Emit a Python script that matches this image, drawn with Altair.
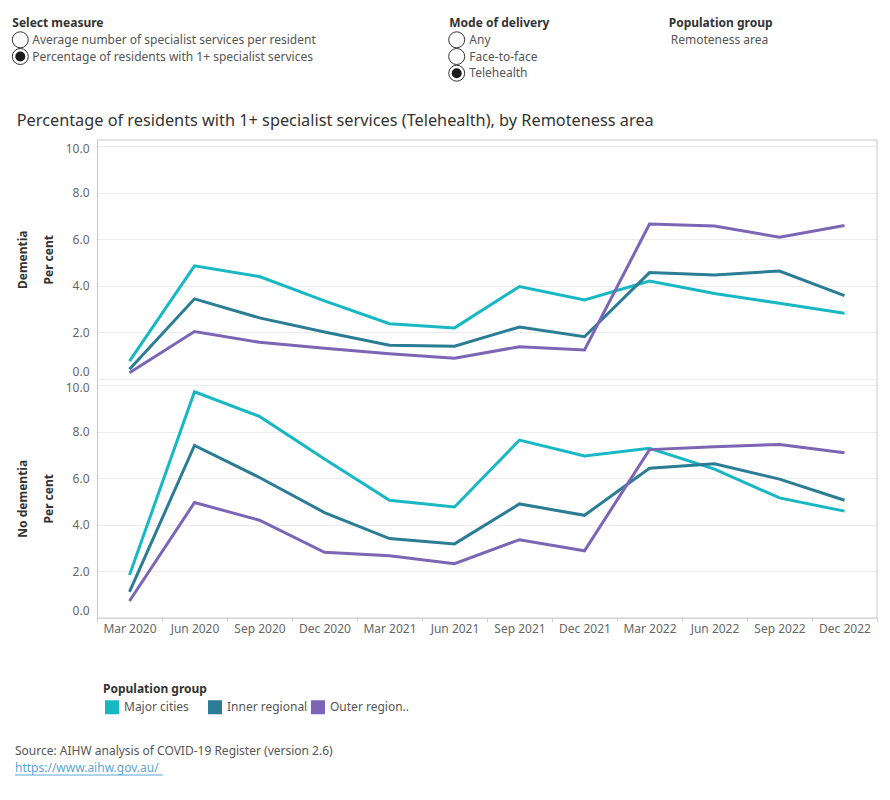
import altair as alt
import pandas as pd

FONT = "Noto Sans"

quarters = ["Mar 2020", "Jun 2020", "Sep 2020", "Dec 2020", "Mar 2021", "Jun 2021",
            "Sep 2021", "Dec 2021", "Mar 2022", "Jun 2022", "Sep 2022", "Dec 2022"]
groups = ["Major cities", "Inner regional", "Outer regional and remote"]
colors = ["#17b8c4", "#2b7c95", "#7d65b5"]

# Per cent of residents with at least one telehealth specialist service
dementia_major = [0.75, 4.85, 4.39, 3.34, 2.36, 2.18, 3.96, 3.38, 4.20, 3.66, 3.24, 2.81]
dementia_inner = [0.40, 3.43, 2.61, 2.00, 1.43, 1.39, 2.22, 1.80, 4.56, 4.46, 4.63, 3.57]
dementia_outer = [0.25, 2.02, 1.56, 1.30, 1.07, 0.87, 1.37, 1.23, 6.65, 6.57, 6.08, 6.59]
no_dementia_major = [1.83, 9.72, 8.66, 6.82, 5.05, 4.76, 7.64, 6.96, 7.29, 6.39, 5.15, 4.58]
no_dementia_inner = [1.10, 7.41, 6.03, 4.52, 3.40, 3.17, 4.89, 4.40, 6.43, 6.62, 5.96, 5.05]
no_dementia_outer = [0.71, 4.95, 4.19, 2.81, 2.66, 2.32, 3.35, 2.87, 7.23, 7.35, 7.45, 7.09]

series = {
    "Dementia": [dementia_major, dementia_inner, dementia_outer],
    "No dementia": [no_dementia_major, no_dementia_inner, no_dementia_outer],
}
rows = []
for panel_name, lists in series.items():
    for grp, vals in zip(groups, lists):
        for q, v in zip(quarters, vals):
            rows.append({"panel": panel_name, "group": grp, "quarter": q, "value": v})
df = pd.DataFrame(rows)

W, H = 780, 238.5
GRID = "#ebebeb"
BORDER = "#c8c8c8"


def one():
    return alt.Data(values=[{}])


def text(txt, x, y, size=12, color="#555555", weight="normal"):
    return alt.Chart(one()).mark_text(
        text=txt, align="left", baseline="middle", font=FONT,
        fontSize=size, color=color, fontWeight=weight,
    ).encode(x=alt.value(x), y=alt.value(y))


def radio(x, y, selected=False):
    ring = alt.Chart(one()).mark_point(
        shape="circle", size=256, filled=False, color="#333333",
        strokeWidth=1, opacity=1,
    ).encode(x=alt.value(x), y=alt.value(y))
    if not selected:
        return [ring]
    dot = alt.Chart(one()).mark_point(
        shape="circle", size=100, filled=True, color="#1a1a1a", opacity=1,
    ).encode(x=alt.value(x), y=alt.value(y))
    return [ring, dot]


def hrule(x1, x2, y, color=BORDER):
    return alt.Chart(one()).mark_rule(color=color, strokeWidth=1).encode(
        x=alt.value(x1), x2=alt.value(x2), y=alt.value(y))


def vrule(x, y1, y2, color=BORDER):
    return alt.Chart(one()).mark_rule(color=color, strokeWidth=1).encode(
        x=alt.value(x), y=alt.value(y1), y2=alt.value(y2))


def panel(name, show_x, legend, extras):
    x_axis = alt.Axis(
        title=None, labelAngle=0, tickBand="extent", labelFont=FONT,
        labelFontSize=12, labelColor="#666666", labelPadding=2,
        tickColor="#d0d0d0", tickSize=4, domainColor=BORDER, grid=False,
    ) if show_x else None
    y_axis = alt.Axis(
        values=[0, 2, 4, 6, 8, 10], format=".1f", title=[name, "Per cent"],
        titleFont=FONT, titleFontSize=12, titleFontWeight="bold",
        titleColor="#333333", titleLineHeight=26, titlePadding=10,
        labelFont=FONT, labelFontSize=12, labelColor="#666666",
        labelPadding=8, ticks=False, labelFlush=True,
        labelOffset={"condition": {"test": "datum.value == 10", "value": 2.5}, "value": 0},
        domainColor=BORDER, gridColor=GRID,
    )
    lines = alt.Chart(df[df.panel == name]).mark_line(strokeWidth=3).encode(
        x=alt.X("quarter:N", sort=quarters, bandPosition=0.5,
                scale=alt.Scale(type="band", paddingInner=0, paddingOuter=0),
                axis=x_axis),
        y=alt.Y("value:Q", scale=alt.Scale(domain=[0, 10.27], nice=False),
                axis=y_axis),
        color=alt.Color("group:N", sort=groups,
                        scale=alt.Scale(domain=groups, range=colors),
                        legend=legend),
    )
    return alt.layer(lines, *extras).properties(width=W, height=H)


header = [
    text("Select measure", -84.7, -117.2, color="#333333", weight="bold"),
    *radio(-76.7, -100.2),
    text("Average number of specialist services per resident", -64.7, -100.2),
    *radio(-76.7, -83.5, selected=True),
    text("Percentage of residents with 1+ specialist services", -64.7, -83.5),
    text("Mode of delivery", 352.3, -117.2, color="#333333", weight="bold"),
    *radio(359.7, -100.2),
    text("Any", 372.3, -100.2),
    *radio(359.7, -83.5),
    text("Face-to-face", 372.3, -83.5),
    *radio(359.7, -66.8, selected=True),
    text("Telehealth", 372.3, -66.8),
    text("Population group", 571.7, -117.2, color="#333333", weight="bold"),
    text("Remoteness area", 573.7, -100.2),
    text("Percentage of residents with 1+ specialist services (Telehealth), by Remoteness area",
         -80.3, -19.5, size=16.3, color="#333333"),
    hrule(0, W, 0),
    vrule(W, 0, H),
]

footer = [
    vrule(W, 0, H),
    text("Source: AIHW analysis of COVID-19 Register (version 2.6)", -82, 372),
    text("https://www.aihw.gov.au/", -82, 388.7, color="#5aa6d6"),
    hrule(-82, 66, 396, color="#5aa6d6"),
]

legend = alt.Legend(
    title="Population group", orient="none", legendX=6, legendY=305,
    direction="horizontal", columns=3, gridAlign="all", columnPadding=-8,
    symbolType="square", symbolSize=49, symbolStrokeWidth=7,
    symbolOffset=2, labelOffset=5,
    labelFont=FONT, labelFontSize=12, labelColor="#555555", labelLimit=100,
    labelExpr="length(datum.label) > 14 ? substring(datum.label, 0, 12) + '..' : datum.label",
    titleFont=FONT, titleFontSize=12, titleFontWeight="bold", titleColor="#333333",
    titlePadding=4,
)

top = panel("Dementia", False, None, header)
bottom = panel("No dementia", True, legend, footer)

chart = alt.vconcat(top, bottom, spacing=0, bounds="flush").resolve_scale(
    x="independent", y="independent", color="independent"
).configure(
    padding={"left": 10, "top": 16, "right": 5, "bottom": 5}, font=FONT,
).configure_view(stroke=None)

chart.save("out.html", embed_options={"renderer": "svg", "actions": False})
